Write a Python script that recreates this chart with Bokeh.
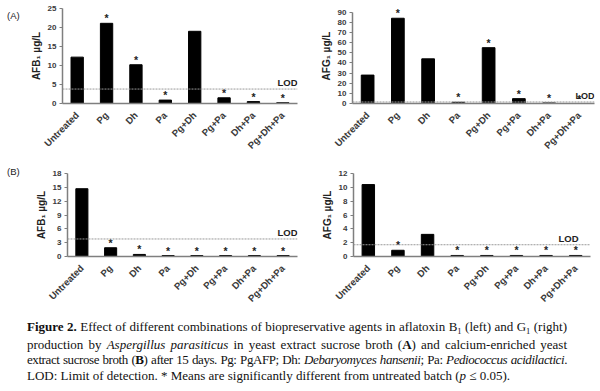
from math import pi
from bokeh.plotting import figure
from bokeh.layouts import column, row
from bokeh.models import ColumnDataSource, FixedTicker, Span, Label, Div
from bokeh.core.properties import value
from bokeh.embed import file_html
from bokeh.resources import INLINE

# ---------------- data ----------------
categories = ["Untreated", "Pg", "Dh", "Pa", "Pg+Dh", "Pg+Pa", "Dh+Pa", "Pg+Dh+Pa"]

afb1_A = [12.2, 21.1, 10.2, 0.9, 19.0, 1.5, 0.5, 0.2]
afg1_A = [28.0, 84.0, 44.0, 1.2, 55.0, 4.8, 0.6, 0.0]
afb1_B = [14.7, 1.9, 0.45, 0.2, 0.2, 0.2, 0.2, 0.2]
afg1_B = [10.4, 0.9, 3.2, 0.15, 0.15, 0.15, 0.15, 0.15]

sig_afb1_A = ["Pg", "Dh", "Pa", "Pg+Pa", "Dh+Pa", "Pg+Dh+Pa"]
sig_afg1_A = ["Pg", "Pa", "Pg+Dh", "Pg+Pa", "Dh+Pa", "Pg+Dh+Pa"]
sig_afb1_B = ["Pg", "Dh", "Pa", "Pg+Dh", "Pg+Pa", "Dh+Pa", "Pg+Dh+Pa"]
sig_afg1_B = ["Pg", "Pa", "Pg+Dh", "Pg+Pa", "Dh+Pa", "Pg+Dh+Pa"]

lod_afb1_A = 3.8
lod_afg1_A = 1.5
lod_afb1_B = 3.8
lod_afg1_B = 1.7

ticks_afb1_A = [0, 5, 10, 15, 20, 25]
ticks_afg1_A = [0, 10, 20, 30, 40, 50, 60, 70, 80, 90]
ticks_afb1_B = [0, 3, 6, 9, 12, 15, 18]
ticks_afg1_B = [0, 2, 4, 6, 8, 10, 12]

label_B1 = "AFB\u2081 \u00b5g/L"
label_G1 = "AFG\u2081 \u00b5g/L"

FONT = "Liberation Sans"
AXIS_COLOR = "#7f7f7f"
TEXT_COLOR = "#3a3a3a"


def panel(vals, sig, lod, ticks, ylabel, width, height, bl, br, bt, bb,
          y_end=None, lod_x=0, lod_align="right", lod_size="9.5px"):
    y_end = ticks[-1] if y_end is None else y_end
    p = figure(x_range=categories, y_range=(0, y_end), width=width, height=height,
               output_backend="svg", toolbar_location=None,
               min_border_left=bl, min_border_right=br, min_border_top=bt, min_border_bottom=bb)
    p.outline_line_color = None
    p.xgrid.grid_line_color = None
    p.ygrid.grid_line_color = None
    p.x_range.range_padding = 0

    src = ColumnDataSource(dict(x=categories, top=vals))
    p.vbar(x="x", top="top", width=0.42, source=src, fill_color="black", line_color="black")

    sig_vals = [vals[categories.index(c)] for c in sig]
    ssrc = ColumnDataSource(dict(x=sig, y=sig_vals, t=["*"] * len(sig)))
    p.text(x="x", y="y", text="t", source=ssrc, text_align="center", text_baseline="bottom",
           y_offset=1, text_font=value(FONT), text_font_size="10.5px", text_font_style="bold",
           text_color="#222222")

    p.add_layout(Span(location=lod, dimension="width", line_color="#9a9a9a",
                      line_dash="2 1", line_width=1))
    p.add_layout(Label(x=lod_x, y=lod, x_units="screen", y_units="data", text="LOD",
                       text_align=lod_align, text_baseline="bottom", y_offset=1,
                       text_font=FONT, text_font_size=lod_size, text_font_style="bold",
                       text_color="#222222"))

    # axes
    p.xaxis.axis_line_color = AXIS_COLOR
    p.xaxis.axis_line_width = 1.5
    p.xaxis.major_tick_line_color = None
    p.xaxis.minor_tick_line_color = None
    p.xaxis.major_label_orientation = pi / 4
    p.xaxis.major_label_text_font = FONT
    p.xaxis.major_label_text_font_style = "bold"
    p.xaxis.major_label_text_font_size = "9.5px"
    p.xaxis.major_label_text_color = TEXT_COLOR
    p.xaxis.major_label_standoff = 4

    p.yaxis.ticker = FixedTicker(ticks=ticks)
    p.yaxis.bounds = (0, ticks[-1])
    p.yaxis.axis_line_color = AXIS_COLOR
    p.yaxis.axis_line_width = 1.5
    p.yaxis.major_tick_line_color = AXIS_COLOR
    p.yaxis.major_tick_in = 0
    p.yaxis.major_tick_out = 3
    p.yaxis.minor_tick_line_color = None
    p.yaxis.major_label_text_font = FONT
    p.yaxis.major_label_text_font_style = "bold"
    p.yaxis.major_label_text_font_size = "8px"
    p.yaxis.major_label_text_color = TEXT_COLOR
    p.yaxis.major_label_standoff = 3
    p.yaxis.axis_label = ylabel
    p.yaxis.axis_label_text_font = FONT
    p.yaxis.axis_label_text_font_style = "bold"
    p.yaxis.axis_label_text_font_size = "10px"
    p.yaxis.axis_label_text_color = "#222222"
    p.yaxis.axis_label_standoff = 3
    return p


def tag(text, height, pad_top):
    html = (f'<div style="font-family:\'{FONT}\';font-size:9.5px;color:#222222;'
            f'line-height:12px;margin:0;padding:{pad_top}px 0 0 7px;">{text}</div>')
    return Div(text=html, width=20, height=height, margin=0, styles={"overflow": "hidden"})


# row 1: frames  A-left x 62..297, y 8..104 ; A-right x 352..594, y 0..103
a1 = panel(afb1_A, sig_afb1_A, lod_afb1_A, ticks_afb1_A, label_B1,
           width=282, height=158, bl=42, br=5, bt=8, bb=54, lod_x=235, lod_align="right")
a2 = panel(afg1_A, sig_afg1_A, lod_afg1_A, ticks_afg1_A, label_G1,
           width=296, height=158, bl=50, br=4, bt=0, bb=55, y_end=93.6,
           lod_x=242, lod_align="right", lod_size="9px")
# row 2: frames  B-left x 67..297, y 170..260 ; B-right x 353..590, y 173..262
b1 = panel(afb1_B, sig_afb1_B, lod_afb1_B, ticks_afb1_B, label_B1,
           width=282, height=152, bl=47, br=5, bt=12, bb=50, lod_x=230, lod_align="right")
b2 = panel(afg1_B, sig_afg1_B, lod_afg1_B, ticks_afg1_B, label_G1,
           width=296, height=152, bl=51, br=8, bt=15, bb=48, lod_x=225, lod_align="right")

sub = '<span style="font-size:8.5px;position:relative;top:3px;">1</span>'
J = "width:540px;text-align:justify;text-align-last:justify;"
caption_html = (
    '<div style="font-family:\'Liberation Serif\',serif;font-size:13px;line-height:15.7px;'
    'color:#111;margin:0;padding:9px 0 0 27px;">'
    f'<div style="{J}"><b>Figure 2.</b> Effect of different combinations of biopreservative '
    'agents in aflatoxin B' + sub + ' (left) and G' + sub + ' (right)</div>'
    f'<div style="{J}">production by <i>Aspergillus parasiticus</i> in yeast extract sucrose '
    'broth (<b>A</b>) and calcium-enriched yeast</div>'
    f'<div style="{J}letter-spacing:-0.42px;">extract sucrose broth (<b>B</b>) after 15 days. '
    'Pg: PgAFP; Dh: <i>Debaryomyces hansenii</i>; Pa: <i>Pediococcus acidilactici</i>.</div>'
    '<div style="white-space:nowrap;">LOD: Limit of detection. * Means are significantly '
    'different from untreated batch (<i>p</i> \u2264 0.05).</div></div>'
)
caption = Div(text=caption_html, width=598, height=80, margin=0, styles={"overflow": "hidden"})

layout = column(row(tag("(A)", 158, 10), a1, a2),
                row(tag("(B)", 152, 8), b1, b2),
                caption)
open("out.html", "w").write(file_html(layout, INLINE))
